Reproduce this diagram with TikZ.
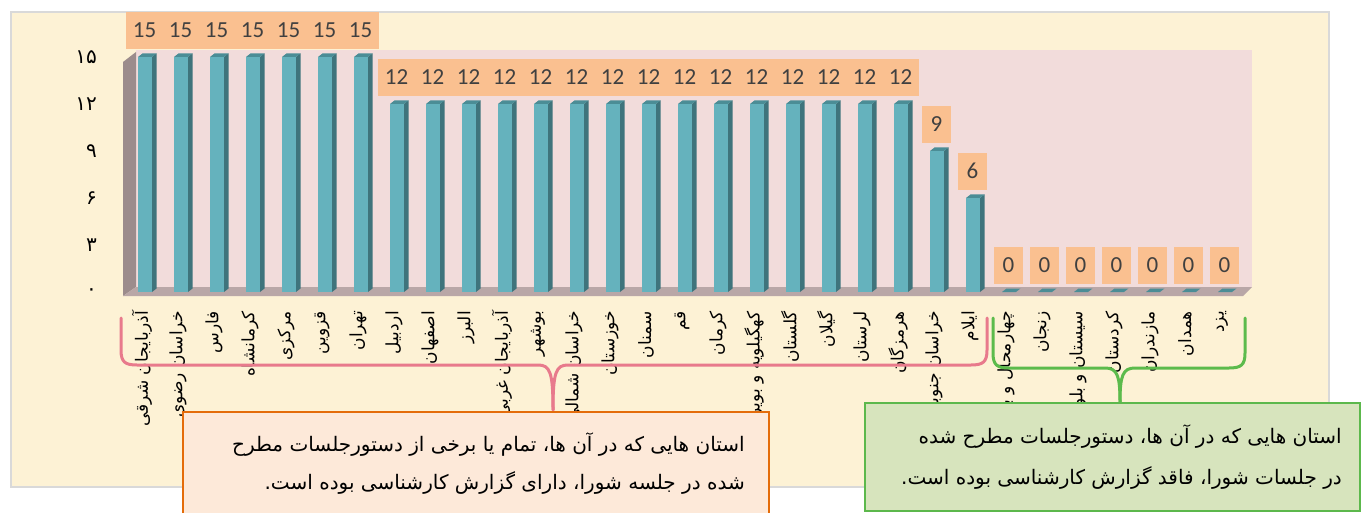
\documentclass[tikz,border=0pt]{standalone}
\usepackage{fontspec}
\TeXXeTstate=1
\newfontfamily\fa[Script=Arabic]{DejaVu Sans}
\newfontfamily\numfont{Carlito}
\definecolor{cream}{HTML}{FDF2D5}
\definecolor{framegray}{HTML}{D9D9D9}
\definecolor{wallpink}{HTML}{F2DCDB}
\definecolor{sidewall}{HTML}{9C8C8C}
\definecolor{floorc}{HTML}{B9A7A7}
\definecolor{barfront}{HTML}{65B2BD}
\definecolor{barside}{HTML}{3F747C}
\definecolor{bartop}{HTML}{4B8D96}
\definecolor{lblfill}{HTML}{FAC090}
\definecolor{lbltext}{HTML}{404040}
\definecolor{bracepink}{HTML}{E87A8C}
\definecolor{bracegreen}{HTML}{5CBB4C}
\definecolor{obfill}{HTML}{FDE9D9}
\definecolor{obdraw}{HTML}{E46C0A}
\definecolor{gbfill}{HTML}{D7E4BD}
\definecolor{gbdraw}{HTML}{5CB84C}
\tikzset{
  vallabel/.style={fill=lblfill, text=lbltext, inner sep=0pt, minimum height=37pt,
    font=\numfont\fontsize{23}{23}\selectfont, anchor=south},
  catlabel/.style={rotate=90, anchor=east, inner sep=0pt, font=\fa\fontsize{17}{17}\selectfont},
  axlabel/.style={anchor=east, inner sep=0pt, font=\fa\fontsize{20}{20}\selectfont},
  bracestyle/.style={line width=3pt, line cap=round, line join=round},
  boxtext/.style={anchor=base east, inner sep=0pt, font=\fa\fontsize{20}{20}\selectfont}
}
\begin{document}
\begin{tikzpicture}[x=1pt,y=-1pt]
\useasboundingbox (0,0) rectangle (1362,513);
\fill[white] (0,0) rectangle (1362,513);
% outer frame
\draw[fill=cream, draw=framegray, line width=1.5pt] (11,12) rectangle (1329,487);
% chart walls
\fill[wallpink] (136,50) rectangle (1252,287);
\fill[sidewall] (123,62) -- (136,52) -- (136,287) -- (123,296) -- cycle;
\fill[floorc] (123,296) -- (1243,296) -- (1252,287) -- (136,287) -- cycle;
% y axis
\foreach \v/\t in {0/۰,3/۳,6/۶,9/۹,12/۱۲,15/۱۵}{
  \node[axlabel] (ax\v) at (97,{292-15.67*\v}) {\t};
}
% bars
\foreach \v [count=\k from 0] in {15,15,15,15,15,15,15,12,12,12,12,12,12,12,12,12,12,12,12,12,12,12,9,6,0,0,0,0,0,0,0}{
  \pgfmathsetmacro\L{138+36*\k}
  \pgfmathsetmacro\T{292-15.67*\v}
  \ifnum\v>0
    \fill[barfront] (\L,\T) rectangle (\L+14,292);
    \fill[barside] (\L+14,\T) -- (\L+18.5,\T-3.5) -- (\L+18.5,288.5) -- (\L+14,292) -- cycle;
  \fi
  \fill[bartop] (\L,\T) -- (\L+4.5,\T-3.5) -- (\L+18.5,\T-3.5) -- (\L+14,\T) -- cycle;
  \ifnum\v>9
    \node[vallabel, minimum width=37pt] (d\k) at (\L+6.5,\T-8) {\v};
  \else
    \node[vallabel, minimum width=29pt] (d\k) at (\L+6.5,\T-8) {\v};
  \fi
}
% category labels
\foreach \n [count=\k from 0] in {آذربایجان شرقی,خراسان رضوی,فارس,کرمانشاه,مرکزی,قزوین,تهران,اردبیل,اصفهان,البرز,آذربایجان غربی,بوشهر,خراسان شمالی,خوزستان,سمنان,قم,کرمان,کهگیلویه و بویراحمد,گلستان,گیلان,لرستان,هرمزگان,خراسان جنوبی,ایلام,چهارمحال و بختیاری,زنجان,سیستان و بلوچستان,کردستان,مازندران,همدان,یزد}{
  \node[catlabel] (c\k) at ({142+36*\k},311) {\beginR\n\endR};
}
% braces
\draw[bracestyle, bracepink] (121,318) -- (121,350) .. controls (121,362) and (125,365) .. (137,365)
  -- (538,365) .. controls (550,365) and (553,372) .. (553,410);
\draw[bracestyle, bracepink] (987,318) -- (987,350) .. controls (987,362) and (983,365) .. (971,365)
  -- (568,365) .. controls (556,365) and (553,372) .. (553,410);
\draw[bracestyle, bracegreen] (993,318) -- (993,353) .. controls (993,365) and (997,368) .. (1009,368)
  -- (1105,368) .. controls (1117,368) and (1120,375) .. (1120,402);
\draw[bracestyle, bracegreen] (1245,318) -- (1245,353) .. controls (1245,365) and (1241,368) .. (1229,368)
  -- (1135,368) .. controls (1123,368) and (1120,375) .. (1120,402);
% boxes
\draw[fill=obfill, draw=obdraw, line width=2.5pt] (183,412) rectangle (769,540);
\node[boxtext] (o1) at (745,451) {\beginR استان هایی که در آن ها، تمام یا برخی از دستورجلسات مطرح\endR};
\node[boxtext] (o2) at (745,489) {\beginR شده در جلسه شورا، دارای گزارش کارشناسی بوده است.\endR};
\draw[fill=gbfill, draw=gbdraw, line width=2.5pt] (865,403) rectangle (1360,511);
\node[boxtext] (g1) at (1342,443) {\beginR استان هایی که در آن ها، دستورجلسات مطرح شده\endR};
\node[boxtext] (g2) at (1342,484) {\beginR در جلسات شورا، فاقد گزارش کارشناسی بوده است.\endR};
\end{tikzpicture}
\end{document}
